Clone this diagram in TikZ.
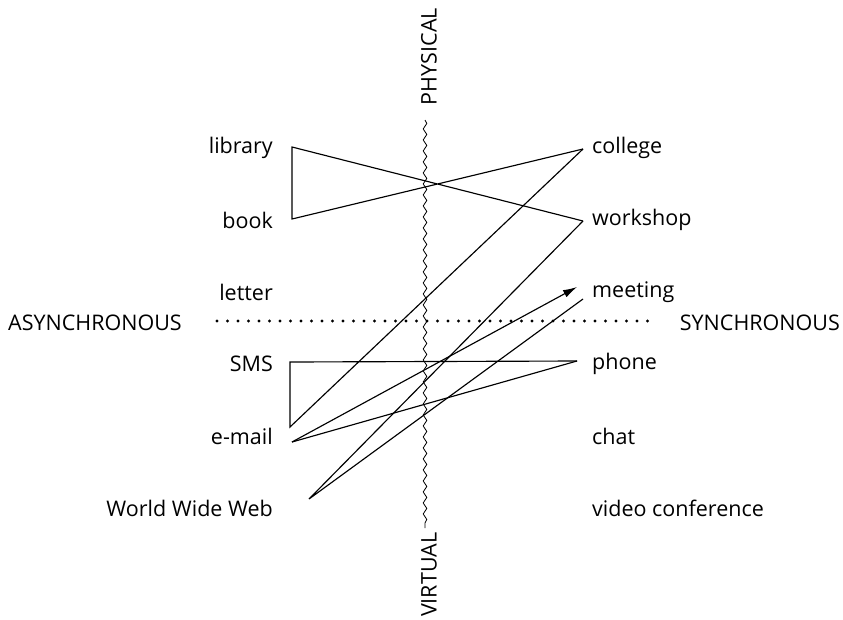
\documentclass[tikz,border=0pt]{standalone}
\usepackage{fontspec}
\setmainfont{Open Sans}
\usetikzlibrary{arrows.meta,decorations.pathmorphing}
\begin{document}
\begin{tikzpicture}[x=1pt,y=-1pt,
  lbl/.style={inner sep=0pt,font=\fontsize{21.5}{24}\selectfont},
  lft/.style={lbl,anchor=east},
  rgt/.style={lbl,anchor=west},
  conn/.style={line width=1.15pt,line join=miter},
  wavy/.style={line width=0.8pt,decorate,decoration={snake,segment length=11pt,amplitude=1.8pt}}]
\useasboundingbox (0,0) rectangle (843,619);
% labels
\node[lft] (lib) at (273,148) {library};
\node[lft] (book) at (273,220) {book};
\node[lft] (letter) at (273,292) {letter};
\node[lft] (sms) at (273,364) {SMS};
\node[lft] (email) at (273,436) {e-mail};
\node[lft] (www) at (273,508) {World Wide Web};
\node[rgt] (college) at (592,148) {college};
\node[rgt] (workshop) at (592,220) {workshop};
\node[rgt] (meeting) at (592,292) {meeting};
\node[rgt] (phone) at (592,364) {phone};
\node[rgt] (chat) at (592,436) {chat};
\node[rgt] (video) at (592,508) {video conference};
\node[lbl,anchor=west] (async) at (8,323) {ASYNCHRONOUS};
\node[lbl,anchor=east] (sync) at (840,323) {SYNCHRONOUS};
\node[lbl,anchor=east,rotate=90] (phys) at (429,8) {PHYSICAL};
\node[lbl,anchor=west,rotate=90] (virt) at (429,617) {VIRTUAL};
% axes
\coordinate (wtop) at (425,120);
\coordinate (wbot) at (425,528);
\draw[wavy] (wtop) -- (wbot);
\coordinate (dl) at (217,321);
\coordinate (dr) at (650,321);
\draw[line width=3.2pt,line cap=round,dash pattern=on 0pt off 10.5pt] (dl) -- (dr);
% connection points
\coordinate (libP) at (292,147);
\coordinate (bookP) at (292,219);
\coordinate (colP) at (583,149);
\coordinate (wsP) at (583,221);
\coordinate (meetA) at (577,287);
\coordinate (meetB) at (583,299);
\coordinate (smsP) at (290,362);
\coordinate (phoneP) at (577,361);
\coordinate (emailA) at (290,427);
\coordinate (emailB) at (292,442);
\coordinate (wwwP) at (309,499);
% connectors
\draw[conn] (colP) -- (bookP) -- (libP) -- (wsP);
\draw[conn] (phoneP) -- (smsP) -- (emailA) -- (colP);
\draw[conn] (phoneP) -- (emailB);
\draw[conn,-{Latex[length=14pt,width=8pt]}] (emailB) -- (meetA);
\draw[conn] (wsP) -- (wwwP) -- (meetB);
\end{tikzpicture}
\end{document}
